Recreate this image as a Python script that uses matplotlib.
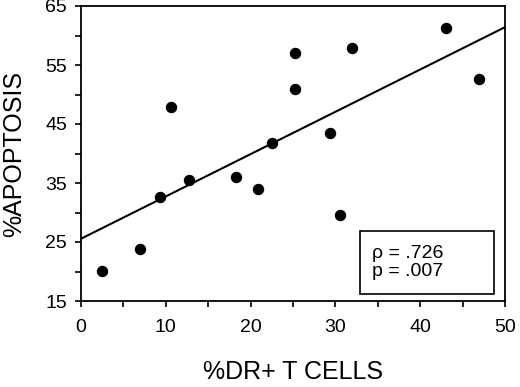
import numpy as np
import matplotlib.pyplot as plt
from matplotlib.patches import Rectangle

plt.rcParams['font.family'] = ['Liberation Sans', 'DejaVu Sans']

# %DR+ T cells vs %apoptosis
dr_cells = [2.5, 6.9, 9.3, 10.6, 12.7, 18.3, 20.9, 22.5, 25.2, 25.2,
            29.4, 30.6, 31.9, 43.0, 46.9]
apoptosis = [20.1, 23.8, 32.6, 47.8, 35.5, 36.1, 34.0, 41.7, 57.0, 50.9,
             43.4, 29.5, 57.9, 61.3, 52.6]
stats_text = "\u03c1 = .726\np = .007"

fig = plt.figure(figsize=(5.2, 3.87), dpi=100)
ax = fig.add_axes([81 / 520, 1 - 301 / 387, 424 / 520, 295 / 387])

ax.scatter(dr_cells, apoptosis, s=52, color='black', zorder=3)

# least squares fit line across the full x range
slope, intercept = np.polyfit(dr_cells, apoptosis, 1)
xs = np.array([0, 50])
ax.plot(xs, slope * xs + intercept, color='black', lw=1.5, zorder=2)

ax.set_xlim(0, 50)
ax.set_ylim(15, 65)
ax.set_xticks(np.arange(0, 51, 10))
ax.set_yticks(np.arange(15, 66, 10))
ax.set_xticks(np.arange(5, 50, 10), minor=True)
ax.set_yticks(np.arange(20, 65, 10), minor=True)
ax.tick_params(which='both', direction='out', length=4, width=1.2, color='black')
ax.tick_params(axis='x', labelsize=14, pad=9)
ax.tick_params(axis='y', labelsize=14, pad=6)
for sp in ax.spines.values():
    sp.set_linewidth(1.3)

ax.set_xlabel("%DR+ T CELLS", fontsize=18, labelpad=17)
ax.set_ylabel("%APOPTOSIS", fontsize=18, labelpad=14)

# stats box
ax.add_patch(Rectangle((0.659, 0.025), 0.315, 0.212, transform=ax.transAxes,
                       fill=False, lw=1.2, edgecolor='black', zorder=4))
ax.text(0.687, 0.130, stats_text, transform=ax.transAxes, fontsize=14,
        va='center', ha='left', linespacing=1.05)

fig.savefig("out.png", dpi=100)
